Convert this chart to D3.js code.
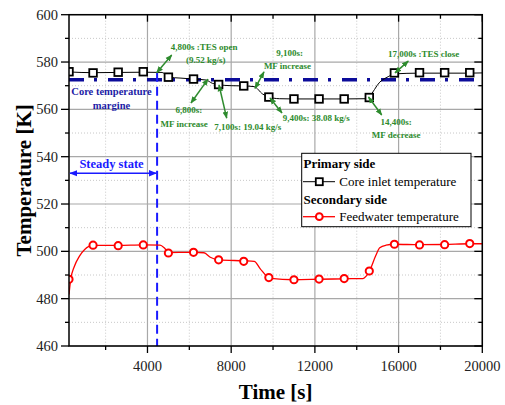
<!DOCTYPE html>
<html>
<head>
<meta charset="utf-8">
<script src="https://cdn.jsdelivr.net/npm/d3@7.9.0/dist/d3.min.js"></script>
<style>
  body { margin: 0; background: #fff; }
  svg { display: block; }
</style>
</head>
<body>
<script>
// Core inlet temperature (primary side) - line points
const coreTime = [250, 1400, 2600, 3800, 4700, 5000, 5600, 6200, 6800, 7100, 7400, 8000, 8600, 9100, 9500, 9800, 10300, 11000, 12200, 13400, 14400, 14600, 15100, 15500, 15800, 17000, 18200, 19400, 20000];
const coreTemp = [575.8, 575.5, 575.6, 575.7, 575.6, 573.6, 573.2, 572.8, 572.4, 571.0, 570.4, 570.0, 569.9, 569.6, 566.5, 565.2, 564.5, 564.4, 564.4, 564.4, 564.5, 565.5, 571.5, 573.8, 575.0, 575.3, 575.3, 575.3, 575.4];
// Core inlet markers
const coreMarkTime = [250, 1400, 2600, 3800, 5000, 6200, 7400, 8600, 9800, 11000, 12200, 13400, 14600, 15800, 17000, 18200, 19400];
const coreMarkTemp = [575.9, 575.4, 575.7, 575.9, 573.6, 572.8, 570.5, 569.9, 565.2, 564.4, 564.4, 564.4, 565.0, 575.4, 575.5, 575.5, 575.5];

// Feedwater temperature (secondary side)
const feedTime = [250, 330, 500, 750, 1000, 1400, 2600, 3800, 4600, 4800, 5000, 6200, 6700, 7000, 7400, 8600, 9100, 9400, 9700, 9900, 11000, 12200, 13400, 14300, 14450, 14600, 14900, 15100, 15400, 15800, 17000, 18200, 19400, 20000];
const feedTemp = [481.8, 488.0, 493.5, 498.0, 500.8, 502.5, 502.5, 502.7, 502.6, 501.5, 499.5, 499.6, 499.4, 497.5, 496.4, 496.0, 495.8, 492.5, 489.5, 488.6, 488.0, 488.2, 488.4, 488.5, 489.5, 491.5, 498.0, 501.5, 502.6, 503.0, 502.8, 502.9, 503.2, 503.2];
const feedMarkTime = [250, 1400, 2600, 3800, 5000, 6200, 7400, 8600, 9800, 11000, 12200, 13400, 14600, 15800, 17000, 18200, 19400];
const feedMarkTemp = [488.2, 502.6, 502.4, 502.7, 499.3, 499.6, 496.4, 495.8, 488.9, 488.0, 488.3, 488.5, 491.7, 503.0, 502.7, 502.8, 503.3];

// Axis ticks
const xMajorTicks = [4000, 8000, 12000, 16000, 20000];
const xMinorTicks = [2000, 6000, 10000, 14000, 18000];
const yMajorTicks = [460, 480, 500, 520, 540, 560, 580, 600];
const yMinorTicks = [470, 490, 510, 530, 550, 570, 590];

// Reference levels
const marginTemp = 572.5;
const steadyEnd = 4460;

// Event annotations: arrows [t1, T1, t2, T2] and text [label, t, T]
const eventArrows = [
  [4441, 575.5, 5158, 583.0],
  [6892, 572.8, 6080, 562.7],
  [7418, 570.3, 7786, 556.3],
  [9138, 568.9, 9568, 575.8],
  [9855, 564.8, 10428, 558.5],
  [14562, 565.2, 15193, 557.6],
  [15828, 575.4, 16464, 580.4]
];
const eventLabels = [
  ["4,800s :TES open", 6711, 585.1],
  ["(9.52 kg/s)", 6782, 579.8],
  ["6,800s:", 5975, 558.3],
  ["MF increase", 5755, 552.5],
  ["7,100s: 19.04 kg/s", 8794, 551.3],
  ["9,100s:", 10797, 582.5],
  ["MF increase", 10691, 577.0],
  ["9,400s: 38.08 kg/s", 12063, 555.1],
  ["14,400s:", 15886, 553.4],
  ["MF decrease", 15886, 547.7],
  ["17,000s :TES close", 17199, 582.1]
];

const width = 505, height = 405;
const pLeft = 69, pRight = 482.3, pTop = 14.7, pBottom = 346;

const x = d3.scaleLinear().domain([250, 20000]).range([pLeft, pRight]);
const y = d3.scaleLinear().domain([460, 600]).range([pBottom, pTop]);

const svg = d3.select("body").append("svg")
    .attr("width", width)
    .attr("height", height)
    .attr("font-family", "'Liberation Serif', 'Times New Roman', 'DejaVu Serif', serif");

const defs = svg.append("defs");
defs.append("clipPath").attr("id", "plot-clip")
  .append("rect")
    .attr("x", pLeft).attr("y", pTop)
    .attr("width", pRight - pLeft).attr("height", pBottom - pTop);

function addArrowHead(id, color, size) {
  defs.append("marker")
      .attr("id", id)
      .attr("viewBox", "0 0 10 10")
      .attr("refX", 9).attr("refY", 5)
      .attr("markerWidth", size).attr("markerHeight", size)
      .attr("markerUnits", "userSpaceOnUse")
      .attr("orient", "auto-start-reverse")
    .append("path")
      .attr("d", "M0,1 L10,5 L0,9 Z")
      .attr("fill", color);
}
addArrowHead("head-green", "#2e8b2e", 7);
addArrowHead("head-blue", "#1a1aff", 8);

// Grid
const grid = svg.append("g");
grid.selectAll(".xminor").data(xMinorTicks).join("line")
    .attr("x1", d => x(d)).attr("x2", d => x(d))
    .attr("y1", pTop).attr("y2", pBottom)
    .attr("stroke", "#c8c8c8").attr("stroke-dasharray", "1,2");
grid.selectAll(".yminor").data(yMinorTicks).join("line")
    .attr("x1", pLeft).attr("x2", pRight)
    .attr("y1", d => y(d)).attr("y2", d => y(d))
    .attr("stroke", "#c8c8c8").attr("stroke-dasharray", "1,2");
grid.selectAll(".xmajor").data(xMajorTicks).join("line")
    .attr("x1", d => x(d)).attr("x2", d => x(d))
    .attr("y1", pTop).attr("y2", pBottom)
    .attr("stroke", "#a8a8a8").attr("stroke-width", 1.2);
grid.selectAll(".ymajor").data(yMajorTicks).join("line")
    .attr("x1", pLeft).attr("x2", pRight)
    .attr("y1", d => y(d)).attr("y2", d => y(d))
    .attr("stroke", "#a8a8a8").attr("stroke-width", 1.2);

// Core temperature margin (dash-dot)
svg.append("line")
    .attr("x1", pLeft).attr("x2", pRight)
    .attr("y1", y(marginTemp)).attr("y2", y(marginTemp))
    .attr("stroke", "#0c0c9a").attr("stroke-width", 3.5)
    .attr("stroke-dasharray", "15,10,3,11");

// Steady state boundary
svg.append("line")
    .attr("x1", x(steadyEnd)).attr("x2", x(steadyEnd))
    .attr("y1", y(575.5)).attr("y2", pBottom)
    .attr("stroke", "#1a1aff").attr("stroke-width", 2)
    .attr("stroke-dasharray", "9,5");

// Series
const plot = svg.append("g").attr("clip-path", "url(#plot-clip)");
const lineGen = d3.line().x(d => x(d[0])).y(d => y(d[1])).curve(d3.curveMonotoneX);

plot.append("path")
    .datum(d3.zip(coreTime, coreTemp))
    .attr("d", lineGen)
    .attr("fill", "none").attr("stroke", "#000").attr("stroke-width", 1);
plot.append("path")
    .datum(d3.zip(feedTime, feedTemp))
    .attr("d", lineGen)
    .attr("fill", "none").attr("stroke", "#ff0000").attr("stroke-width", 1.3);

plot.selectAll(".sq").data(d3.zip(coreMarkTime, coreMarkTemp)).join("rect")
    .attr("x", d => x(d[0]) - 3.8).attr("y", d => y(d[1]) - 3.8)
    .attr("width", 7.6).attr("height", 7.6)
    .attr("fill", "#fff").attr("stroke", "#000").attr("stroke-width", 1.8);
plot.selectAll(".ci").data(d3.zip(feedMarkTime, feedMarkTemp)).join("circle")
    .attr("cx", d => x(d[0])).attr("cy", d => y(d[1]))
    .attr("r", 3.6)
    .attr("fill", "#fff").attr("stroke", "#ff0000").attr("stroke-width", 2);

// Axes
const axisG = svg.append("g").attr("font-size", 14.5).attr("fill", "#222");
axisG.append("rect")
    .attr("x", pLeft).attr("y", pTop)
    .attr("width", pRight - pLeft).attr("height", pBottom - pTop)
    .attr("fill", "none").attr("stroke", "#000").attr("stroke-width", 1.5);

function ticks(values, len, isX) {
  values.forEach(v => {
    if (isX) {
      axisG.append("line").attr("x1", x(v)).attr("x2", x(v))
          .attr("y1", pBottom).attr("y2", pBottom + len)
          .attr("stroke", "#000").attr("stroke-width", 1.3);
      axisG.append("line").attr("x1", x(v)).attr("x2", x(v))
          .attr("y1", pTop).attr("y2", pTop + len)
          .attr("stroke", "#000").attr("stroke-width", 1.3);
    } else {
      axisG.append("line").attr("x1", pLeft - len).attr("x2", pLeft)
          .attr("y1", y(v)).attr("y2", y(v))
          .attr("stroke", "#000").attr("stroke-width", 1.3);
      axisG.append("line").attr("x1", pRight - len).attr("x2", pRight)
          .attr("y1", y(v)).attr("y2", y(v))
          .attr("stroke", "#000").attr("stroke-width", 1.3);
    }
  });
}
ticks(xMajorTicks, 7, true);
ticks(xMinorTicks, 4, true);
ticks(yMajorTicks, 8, false);
ticks(yMinorTicks, 4, false);

axisG.selectAll(".xl").data(xMajorTicks).join("text")
    .attr("x", d => x(d)).attr("y", pBottom + 25)
    .attr("text-anchor", "middle")
    .text(d => d);
axisG.selectAll(".yl").data(yMajorTicks).join("text")
    .attr("x", pLeft - 11).attr("y", d => y(d) + 5)
    .attr("text-anchor", "end")
    .text(d => d);

svg.append("text")
    .attr("x", (pLeft + pRight) / 2).attr("y", 399)
    .attr("text-anchor", "middle")
    .attr("font-size", 21).attr("font-weight", "bold")
    .text("Time [s]");
svg.append("text")
    .attr("transform", `translate(31,${(pTop + pBottom) / 2}) rotate(-90)`)
    .attr("text-anchor", "middle")
    .attr("font-size", 21).attr("font-weight", "bold")
    .text("Temperature [K]");

// Margin label
const marginLabel = svg.append("text")
    .attr("text-anchor", "middle")
    .attr("font-size", 10.5).attr("font-weight", "bold")
    .attr("fill", "#1c1ca6");
marginLabel.append("tspan").attr("x", x(2281)).attr("y", y(566.1)).text("Core temperature");
marginLabel.append("tspan").attr("x", x(2281)).attr("y", y(560.2)).text("margine");

// Steady state
svg.append("line")
    .attr("x1", pLeft + 1).attr("x2", x(steadyEnd) - 1)
    .attr("y1", y(533.0)).attr("y2", y(533.0))
    .attr("stroke", "#1a1aff").attr("stroke-width", 1.5)
    .attr("marker-start", "url(#head-blue)")
    .attr("marker-end", "url(#head-blue)");
svg.append("text")
    .attr("x", x(2281)).attr("y", y(535.4))
    .attr("text-anchor", "middle")
    .attr("font-size", 12.5).attr("font-weight", "bold")
    .attr("fill", "#1a1aff")
    .text("Steady state");

// Event arrows and labels
svg.selectAll(".ev").data(eventArrows).join("line")
    .attr("x1", d => x(d[0])).attr("y1", d => y(d[1]))
    .attr("x2", d => x(d[2])).attr("y2", d => y(d[3]))
    .attr("stroke", "#2e8b2e").attr("stroke-width", 1.5)
    .attr("marker-start", "url(#head-green)")
    .attr("marker-end", "url(#head-green)");
svg.selectAll(".evl").data(eventLabels).join("text")
    .attr("x", d => x(d[1])).attr("y", d => y(d[2]))
    .attr("text-anchor", "middle")
    .attr("font-size", 9).attr("font-weight", "bold")
    .attr("fill", "#2e8b2e")
    .text(d => d[0]);

// Legend
const legend = svg.append("g");
legend.append("rect")
    .attr("x", 301.7).attr("y", 153.3)
    .attr("width", 169.3).attr("height", 73.4)
    .attr("fill", "#fff").attr("stroke", "#000").attr("stroke-width", 1);
legend.append("text").attr("x", 303.5).attr("y", 167.5)
    .attr("font-size", 13).attr("font-weight", "bold").text("Primary side");
legend.append("line").attr("x1", 303).attr("x2", 335).attr("y1", 181.7).attr("y2", 181.7)
    .attr("stroke", "#000").attr("stroke-width", 1);
legend.append("rect").attr("x", 319.3 - 3.5).attr("y", 181.7 - 3.5).attr("width", 7).attr("height", 7)
    .attr("fill", "#fff").attr("stroke", "#000").attr("stroke-width", 1.8);
legend.append("text").attr("x", 339.3).attr("y", 186)
    .attr("font-size", 13).text("Core inlet temperature");
legend.append("text").attr("x", 303.5).attr("y", 203.5)
    .attr("font-size", 13).attr("font-weight", "bold").text("Secondary side");
legend.append("line").attr("x1", 303).attr("x2", 335).attr("y1", 216.7).attr("y2", 216.7)
    .attr("stroke", "#ff0000").attr("stroke-width", 1.3);
legend.append("circle").attr("cx", 319.3).attr("cy", 216.7).attr("r", 3.4)
    .attr("fill", "#fff").attr("stroke", "#ff0000").attr("stroke-width", 2);
legend.append("text").attr("x", 339.3).attr("y", 221)
    .attr("font-size", 13).text("Feedwater temperature");
</script>
</body>
</html>
